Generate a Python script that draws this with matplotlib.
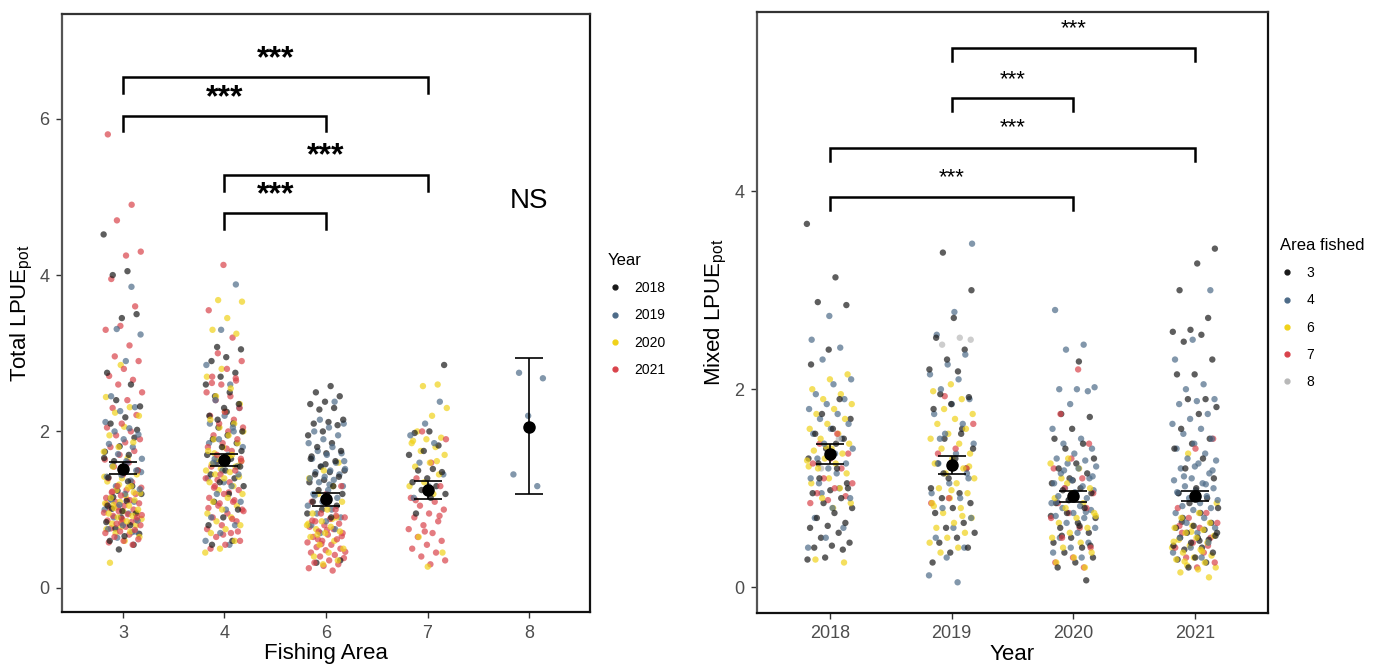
import numpy as np
import matplotlib.pyplot as plt
from matplotlib.lines import Line2D

plt.rcParams['font.family'] = ['Liberation Sans', 'DejaVu Sans']

# ---------------- left panel: Total LPUE by fishing area, coloured by year
areas = ['3', '4', '6', '7', '8']
years = ['2018', '2019', '2020', '2021']
year_colors = ['#1a1a1a', '#4d6b88', '#f0d21a', '#d9434b']

# area 3
t3_2018 = [4.52, 4.05, 4.0, 3.5, 3.45, 2.75, 2.6, 2.4, 2.32, 2.18, 2.1, 1.92, 1.81, 1.74, 1.7, 1.62,
           1.5, 1.46, 1.41, 1.3, 1.24, 1.2, 1.11, 1.01, 0.95, 0.9, 0.84, 0.8, 0.76, 0.69, 0.66, 0.6,
           0.55, 0.49, 1.66, 1.36, 1.16, 2.02, 0.98, 1.05]
t3_2019 = [3.85, 3.31, 3.24, 2.9, 2.45, 2.31, 2.26, 2.12, 2.04, 2.0, 1.96, 1.9, 1.84, 1.8, 1.71, 1.65,
           1.6, 1.56, 1.5, 1.44, 1.42, 1.37, 1.3, 1.26, 1.2, 1.14, 1.1, 1.06, 1.0, 0.95, 0.9, 0.86,
           0.8, 0.75, 0.71, 0.64, 1.48, 1.62, 1.12, 0.72]
t3_2020 = [2.85, 2.44, 2.31, 2.24, 2.2, 2.06, 1.95, 1.86, 1.8, 1.74, 1.66, 1.55, 1.45, 1.4, 1.36, 1.3,
           1.25, 1.21, 1.18, 1.15, 1.12, 1.1, 1.08, 1.05, 1.02, 1.0, 0.98, 0.95, 0.92, 0.9, 0.88, 0.85,
           0.82, 0.8, 0.78, 0.75, 0.72, 0.7, 0.65, 0.6, 0.32, 1.22, 1.32, 1.42, 1.28, 1.06, 0.96, 0.86]
t3_2021 = [5.8, 4.9, 4.7, 4.3, 4.25, 3.95, 3.6, 3.35, 3.3, 3.1, 2.96, 2.9, 2.8, 2.71, 2.66, 2.6,
           2.5, 2.4, 2.3, 2.21, 2.1, 2.05, 2.0, 1.95, 1.9, 1.86, 1.8, 1.75, 1.7, 1.64, 1.6, 1.55,
           1.5, 1.45, 1.4, 1.35, 1.3, 1.28, 1.25, 1.22, 1.2, 1.18, 1.15, 1.12, 1.1, 1.08, 1.05, 1.02,
           1.0, 0.98, 0.96, 0.94, 0.92, 0.9, 0.88, 0.86, 0.84, 0.82, 0.8, 0.78, 0.76, 0.74, 0.72, 0.7,
           0.68, 0.65, 0.62, 0.6, 0.58, 0.55, 1.03, 0.93, 1.13, 1.23, 0.87, 0.83, 1.07]
# area 4
t4_2018 = [3.08, 3.05, 2.95, 2.9, 2.75, 2.7, 2.6, 2.5, 2.45, 2.35, 2.3, 2.2, 2.1, 2.05, 2.0, 1.95,
           1.9, 1.85, 1.8, 1.7, 1.65, 1.6, 1.55, 1.5, 1.45, 1.4, 1.35, 1.3, 1.2, 1.1, 1.0, 0.9,
           0.8, 0.6, 2.15, 1.75, 2.25, 0.55]
t4_2019 = [3.88, 3.3, 2.85, 2.6, 2.4, 2.3, 2.2, 2.1, 2.0, 1.9, 1.8, 1.7, 1.6, 1.55, 1.5, 1.4,
           1.3, 1.2, 1.1, 1.0, 0.9, 0.8, 0.7, 0.6, 0.55, 1.65, 1.45, 1.35, 1.85, 2.05]
t4_2020 = [3.68, 3.66, 3.45, 3.3, 3.25, 2.8, 2.7, 2.55, 2.45, 2.35, 2.25, 2.15, 2.1, 2.05, 2.0, 1.95,
           1.9, 1.85, 1.8, 1.75, 1.7, 1.65, 1.62, 1.6, 1.58, 1.55, 1.52, 1.5, 1.48, 1.45, 1.42, 1.4,
           1.35, 1.3, 1.25, 1.2, 1.15, 1.1, 1.05, 1.0, 0.95, 0.9, 0.85, 0.8, 0.75, 0.7, 0.6, 0.5,
           0.45, 1.68, 1.72, 1.56]
t4_2021 = [4.13, 3.55, 3.2, 3.0, 2.9, 2.8, 2.7, 2.65, 2.6, 2.5, 2.45, 2.4, 2.3, 2.25, 2.2, 2.15,
           2.1, 2.05, 2.0, 1.95, 1.9, 1.85, 1.8, 1.75, 1.7, 1.65, 1.6, 1.55, 1.5, 1.45, 1.4, 1.35,
           1.3, 1.25, 1.2, 1.15, 1.1, 1.05, 1.0, 0.95, 0.9, 0.85, 0.8, 0.75, 0.7, 0.65, 0.6, 0.55,
           0.5, 1.12, 1.08, 0.98, 1.22, 1.28, 0.72, 0.68, 1.02, 0.88, 1.38, 1.62, 1.78, 2.62, 2.68]
# area 6
t6_2018 = [2.58, 2.5, 2.45, 2.38, 2.35, 2.3, 2.28, 2.15, 2.12, 2.1, 2.08, 2.0, 1.95, 1.85, 1.8, 1.75,
           1.72, 1.68, 1.62, 1.55, 1.5, 1.48, 1.45, 1.42, 1.38, 1.35, 1.3, 1.25, 1.2, 1.15, 1.1, 1.05,
           1.0, 0.95, 0.9, 0.32, 0.35, 1.58, 1.65]
t6_2019 = [2.38, 2.15, 2.1, 2.05, 2.0, 1.95, 1.9, 1.85, 1.8, 1.75, 1.72, 1.7, 1.65, 1.6, 1.55, 1.52,
           1.5, 1.48, 1.45, 1.42, 1.4, 1.38, 1.35, 1.3, 1.25, 1.2, 1.15, 1.1, 1.05, 1.0, 0.95, 0.9,
           0.85, 0.8, 0.75, 0.7, 1.62, 1.32, 1.18]
t6_2020 = [1.6, 1.5, 1.4, 1.3, 1.2, 1.1, 1.0, 0.95, 0.9, 0.85, 0.8, 0.78, 0.75, 0.72, 0.7, 0.65,
           0.6, 0.55, 0.5, 0.45, 0.4, 0.35, 0.3, 0.82, 0.88, 0.68]
t6_2021 = [1.3, 1.2, 1.1, 1.0, 0.95, 0.9, 0.88, 0.85, 0.82, 0.8, 0.78, 0.75, 0.72, 0.7, 0.68, 0.65,
           0.62, 0.6, 0.58, 0.55, 0.52, 0.5, 0.48, 0.45, 0.42, 0.4, 0.38, 0.35, 0.32, 0.3, 0.28, 0.25,
           0.22, 0.62, 0.66, 0.74, 0.86, 0.92, 0.56, 0.46]
# area 7
t7_2018 = [2.85, 2.0, 1.98, 1.82, 1.75, 1.7, 1.52, 1.5, 1.48, 1.4, 1.35, 1.3, 1.25, 1.2, 1.15, 0.95]
t7_2019 = [2.38, 2.1, 1.95, 1.85, 1.6, 1.45, 1.3, 1.15]
t7_2020 = [2.6, 2.58, 2.3, 2.2, 2.0, 1.92, 1.9, 1.85, 1.8, 1.75, 1.7, 1.6, 1.55, 1.45, 1.35, 1.3,
           1.2, 0.65, 0.45, 0.27, 1.88, 1.62]
t7_2021 = [2.0, 1.9, 1.6, 1.4, 1.3, 1.25, 1.15, 1.1, 1.05, 1.0, 0.95, 0.9, 0.85, 0.8, 0.75, 0.7,
           0.65, 0.6, 0.55, 0.5, 0.45, 0.4, 0.35, 0.3, 1.12, 0.92, 0.72]
# area 8
t8_2019 = [2.75, 2.68, 2.2, 1.45, 1.3]

total_mean = [1.52, 1.64, 1.14, 1.25, 2.06]
total_lo = [1.45, 1.56, 1.05, 1.14, 1.20]
total_hi = [1.61, 1.71, 1.21, 1.37, 2.94]

# ---------------- right panel: Mixed LPUE by year, coloured by area fished
area_cols = ['3', '4', '6', '7', '8']
area_colors = ['#1a1a1a', '#4d6b88', '#f0d21a', '#d9434b', '#b8b8b8']

m18_a3 = [3.67, 3.13, 2.88, 2.85, 2.4, 2.25, 1.9, 1.75, 1.7, 1.6, 1.55, 1.5, 1.4, 1.3, 1.2, 1.1,
          1.0, 0.98, 0.95, 0.9, 0.85, 0.8, 0.75, 0.7, 0.65, 0.62, 0.6, 0.55, 0.5, 0.45, 0.42, 0.4,
          0.38, 0.3, 0.28, 1.45, 1.25, 1.05]
m18_a4 = [2.74, 2.5, 2.42, 2.3, 2.1, 2.05, 1.95, 1.9, 1.85, 1.8, 1.75, 1.7, 1.65, 1.6, 1.55, 1.5,
          1.45, 1.4, 1.35, 1.3, 1.25, 1.2, 1.1, 1.0, 0.95, 0.9, 0.8, 0.7, 0.6, 0.5, 0.4, 1.15, 1.05]
m18_a6 = [2.15, 2.1, 2.0, 1.95, 1.9, 1.85, 1.8, 1.75, 1.7, 1.65, 1.6, 1.55, 1.5, 1.45, 1.4, 1.38,
          1.35, 1.3, 1.28, 1.25, 1.2, 1.15, 1.1, 1.05, 1.0, 0.9, 0.85, 0.8, 0.28, 0.25, 1.42, 1.22]
m18_a7 = [1.55, 1.45, 1.35, 1.3, 1.25, 1.2, 1.1, 1.05, 1.0, 0.95, 0.92, 0.88, 0.85]
m18_a8 = [1.5, 1.2]

m19_a3 = [3.38, 3.0, 2.72, 2.52, 2.4, 2.3, 2.2, 2.18, 1.95, 1.92, 1.85, 1.8, 1.6, 1.5, 1.4, 1.3,
          1.25, 1.2, 1.1, 1.0, 0.95, 0.9, 0.85, 0.8, 0.75, 0.65, 0.6, 0.55, 0.5, 0.45, 0.4, 0.35,
          0.25, 1.55, 1.15]
m19_a4 = [3.47, 2.78, 2.55, 2.35, 2.25, 2.15, 2.1, 2.0, 1.9, 1.85, 1.75, 1.65, 1.55, 1.45, 1.35, 1.25,
          1.15, 1.05, 0.95, 0.9, 0.8, 0.7, 0.6, 0.5, 0.4, 0.3, 0.12, 0.05, 1.5, 1.1]
m19_a6 = [2.05, 1.98, 1.9, 1.8, 1.75, 1.7, 1.65, 1.6, 1.55, 1.5, 1.45, 1.4, 1.35, 1.3, 1.25, 1.2,
          1.15, 1.1, 1.05, 1.0, 0.95, 0.9, 0.85, 0.8, 0.75, 0.7, 0.65, 0.6, 0.55, 0.5, 0.45, 0.4,
          0.35, 1.22, 0.98, 0.82, 0.72]
m19_a7 = [1.93, 1.65, 1.4, 1.35, 1.2, 0.9, 0.85]
m19_a8 = [2.52, 2.45, 2.5]

m20_a3 = [2.28, 1.75, 1.72, 1.6, 1.5, 1.45, 1.4, 1.3, 1.25, 1.2, 1.15, 1.1, 1.05, 1.0, 0.98, 0.95,
          0.9, 0.85, 0.8, 0.75, 0.7, 0.65, 0.6, 0.55, 0.5, 0.45, 0.4, 0.35, 0.3, 0.25, 0.2, 0.07,
          0.88, 0.72, 0.62, 0.52, 0.42, 1.08]
m20_a4 = [2.8, 2.45, 2.4, 2.02, 2.0, 2.0, 1.98, 1.85, 1.6, 1.5, 1.45, 1.4, 1.35, 1.3, 1.28, 1.25,
          1.22, 1.2, 1.15, 1.1, 1.08, 1.05, 1.02, 1.0, 0.98, 0.95, 0.92, 0.9, 0.88, 0.85, 0.82, 0.8,
          0.78, 0.75, 0.72, 0.7, 0.65, 0.6, 0.55, 0.5, 0.45, 0.4, 0.35, 0.3, 1.18, 1.12, 0.96, 0.86,
          0.76]
m20_a6 = [1.3, 1.25, 1.2, 1.1, 1.0, 0.95, 0.9, 0.85, 0.8, 0.75, 0.7, 0.65, 0.6, 0.55, 0.5, 0.45,
          0.4, 0.35, 0.3, 0.25, 0.2, 1.05, 0.72]
m20_a7 = [2.2, 1.75, 1.45, 1.3, 1.2, 1.1, 1.0, 0.95, 0.9, 0.85, 0.8, 0.75, 0.7, 0.6, 0.5, 0.4,
          0.3, 0.25, 0.2]
m20_a8 = []

m21_a3 = [3.42, 3.27, 3.0, 2.72, 2.6, 2.58, 2.55, 2.48, 2.3, 2.15, 2.15, 1.9, 1.9, 1.82, 1.75, 1.6,
          1.5, 1.45, 1.4, 1.3, 1.2, 1.1, 1.0, 0.95, 0.9, 0.85, 0.8, 0.75, 0.7, 0.65, 0.62, 0.6,
          0.58, 0.55, 0.52, 0.5, 0.5, 0.48, 0.45, 0.42, 0.4, 0.38, 0.35, 0.3, 0.28, 0.25, 0.2, 0.55,
          0.47, 0.66]
m21_a4 = [3.0, 2.5, 2.3, 2.05, 2.0, 1.9, 1.88, 1.85, 1.75, 1.7, 1.65, 1.6, 1.55, 1.5, 1.45, 1.4,
          1.35, 1.3, 1.28, 1.25, 1.2, 1.15, 1.1, 1.08, 1.05, 1.02, 1.0, 0.98, 0.95, 0.92, 0.9, 0.88,
          0.85, 0.82, 0.8, 0.78, 0.75, 0.7, 0.65, 0.6, 0.55, 0.5, 0.45, 0.4, 0.35, 0.3, 1.12, 1.18,
          1.22, 0.96, 1.04]
m21_a6 = [1.35, 0.85, 0.75, 0.7, 0.65, 0.62, 0.6, 0.58, 0.55, 0.52, 0.5, 0.48, 0.45, 0.42, 0.4, 0.38,
          0.35, 0.32, 0.3, 0.28, 0.25, 0.22, 0.2, 0.18, 0.15, 0.1, 0.56, 0.46, 0.36, 0.26]
m21_a7 = [1.5, 1.4, 0.8, 0.75, 0.7, 0.65, 0.6, 0.55, 0.5, 0.45, 0.4, 0.35, 0.3, 0.25, 0.2, 0.62, 0.42]
m21_a8 = []

mixed_mean = [1.35, 1.23, 0.92, 0.92]
mixed_lo = [1.24, 1.14, 0.86, 0.87]
mixed_hi = [1.45, 1.33, 0.97, 0.97]

total_groups = [
    [t3_2018, t3_2019, t3_2020, t3_2021],
    [t4_2018, t4_2019, t4_2020, t4_2021],
    [t6_2018, t6_2019, t6_2020, t6_2021],
    [t7_2018, t7_2019, t7_2020, t7_2021],
    [[], t8_2019, [], []],
]
mixed_groups = [
    [m18_a3, m18_a4, m18_a6, m18_a7, m18_a8],
    [m19_a3, m19_a4, m19_a6, m19_a7, m19_a8],
    [m20_a3, m20_a4, m20_a6, m20_a7, m20_a8],
    [m21_a3, m21_a4, m21_a6, m21_a7, m21_a8],
]

# brackets: (from index, to index, bar height, label height)
total_brackets = [(1, 4, 6.53, 6.76), (1, 3, 6.04, 6.26), (2, 4, 5.28, 5.52), (2, 3, 4.79, 5.02)]
mixed_brackets = [(2, 4, 5.45, 5.64), (2, 3, 4.94, 5.13), (1, 4, 4.44, 4.64), (1, 3, 3.94, 4.14)]


def strip(ax, groups, colors, jit=0.19):
    for gi, series in enumerate(groups):
        vals, cols = [], []
        for s, c in zip(series, colors):
            vals += list(s)
            cols += [c] * len(s)
        n = len(vals)
        if n == 0:
            continue
        vals = np.array(vals)
        cols = np.array(cols)
        # deterministic jitter + draw order
        k = np.arange(n)
        dx = ((k * 0.6180339887 + 0.31 * gi) % 1.0 - 0.5) * 2 * jit
        order = np.argsort((k * 0.7548776662 + 0.2) % 1.0)
        ax.scatter(gi + 1 + dx[order], vals[order], s=21, c=cols[order],
                   alpha=0.7, linewidths=0, zorder=2)


def brackets(ax, specs, drop, fs, lw, weight):
    for a, b, h, t in specs:
        ax.plot([a, a, b, b], [h - drop, h, h, h - drop], color='black', lw=lw,
                solid_joinstyle='miter', zorder=4)
        ax.text((a + b) / 2, t, '***', ha='center', va='center', fontsize=fs,
                fontweight=weight, color='black', zorder=4)


def style(ax):
    for sp in ax.spines.values():
        sp.set_linewidth(1.6)
        sp.set_color('#111111')
    ax.spines['left'].set_color('#555555')
    ax.spines['top'].set_color('#333333')
    ax.tick_params(axis='both', colors='#333333', labelcolor='#4d4d4d',
                   labelsize=13, length=4, width=1, pad=5)


fig = plt.figure(figsize=(13.79, 6.66), dpi=100)

# left
ax1 = fig.add_axes([62 / 1379, 1 - 612 / 666, 528 / 1379, 598 / 666])
strip(ax1, total_groups, year_colors)
x1 = np.arange(1, len(areas) + 1)
ax1.errorbar(x1, total_mean,
             yerr=[np.array(total_mean) - np.array(total_lo), np.array(total_hi) - np.array(total_mean)],
             fmt='o', color='black', ms=8, capsize=10, elinewidth=1.2, capthick=1.2, zorder=5)
brackets(ax1, total_brackets, 0.2, 23, 1.8, 'bold')
ax1.text(5, 4.95, 'NS', ha='center', va='center', fontsize=20)
ax1.set_xlim(0.4, 5.6)
ax1.set_ylim(-0.31, 7.34)
ax1.set_xticks(x1)
ax1.set_xticklabels(areas)
ax1.set_yticks([0, 2, 4, 6])
ax1.set_xlabel('Fishing Area', fontsize=16, labelpad=1)
ax1.set_ylabel('Total LPUE$_{\\mathregular{pot}}$', fontsize=16, labelpad=3)
style(ax1)

h1 = [Line2D([], [], marker='o', ls='', color=c, ms=3.5) for c in year_colors]
lg1 = ax1.legend(h1, years, title='Year', loc='upper left',
                 bbox_to_anchor=(608 / 1379, 1 - 253 / 666), bbox_transform=fig.transFigure,
                 frameon=False, fontsize=10, title_fontsize=12, handlelength=1.0,
                 handletextpad=0.9, labelspacing=0.95, borderpad=0, borderaxespad=0)
lg1._legend_box.align = 'left'

# right
ax2 = fig.add_axes([757 / 1379, 1 - 613 / 666, 511 / 1379, 601 / 666])
strip(ax2, mixed_groups, area_colors)
x2 = np.arange(1, len(years) + 1)
ax2.errorbar(x2, mixed_mean,
             yerr=[np.array(mixed_mean) - np.array(mixed_lo), np.array(mixed_hi) - np.array(mixed_mean)],
             fmt='o', color='black', ms=8, capsize=10, elinewidth=1.2, capthick=1.2, zorder=5)
brackets(ax2, mixed_brackets, 0.13, 16, 1.8, 'normal')
ax2.set_xlim(0.4, 4.6)
ax2.set_ylim(-0.26, 5.81)
ax2.set_xticks(x2)
ax2.set_xticklabels(years)
ax2.set_yticks([0, 2, 4])
ax2.set_xlabel('Year', fontsize=16, labelpad=1)
ax2.set_ylabel('Mixed LPUE$_{\\mathregular{pot}}$', fontsize=16, labelpad=4)
style(ax2)

h2 = [Line2D([], [], marker='o', ls='', color=c, ms=3.5) for c in area_colors]
lg2 = ax2.legend(h2, area_cols, title='Area fished', loc='upper left',
                 bbox_to_anchor=(1280 / 1379, 1 - 238 / 666), bbox_transform=fig.transFigure,
                 frameon=False, fontsize=10, title_fontsize=12, handlelength=1.0,
                 handletextpad=0.9, labelspacing=0.95, borderpad=0, borderaxespad=0)
lg2._legend_box.align = 'left'

fig.savefig('out.png', dpi=100)
